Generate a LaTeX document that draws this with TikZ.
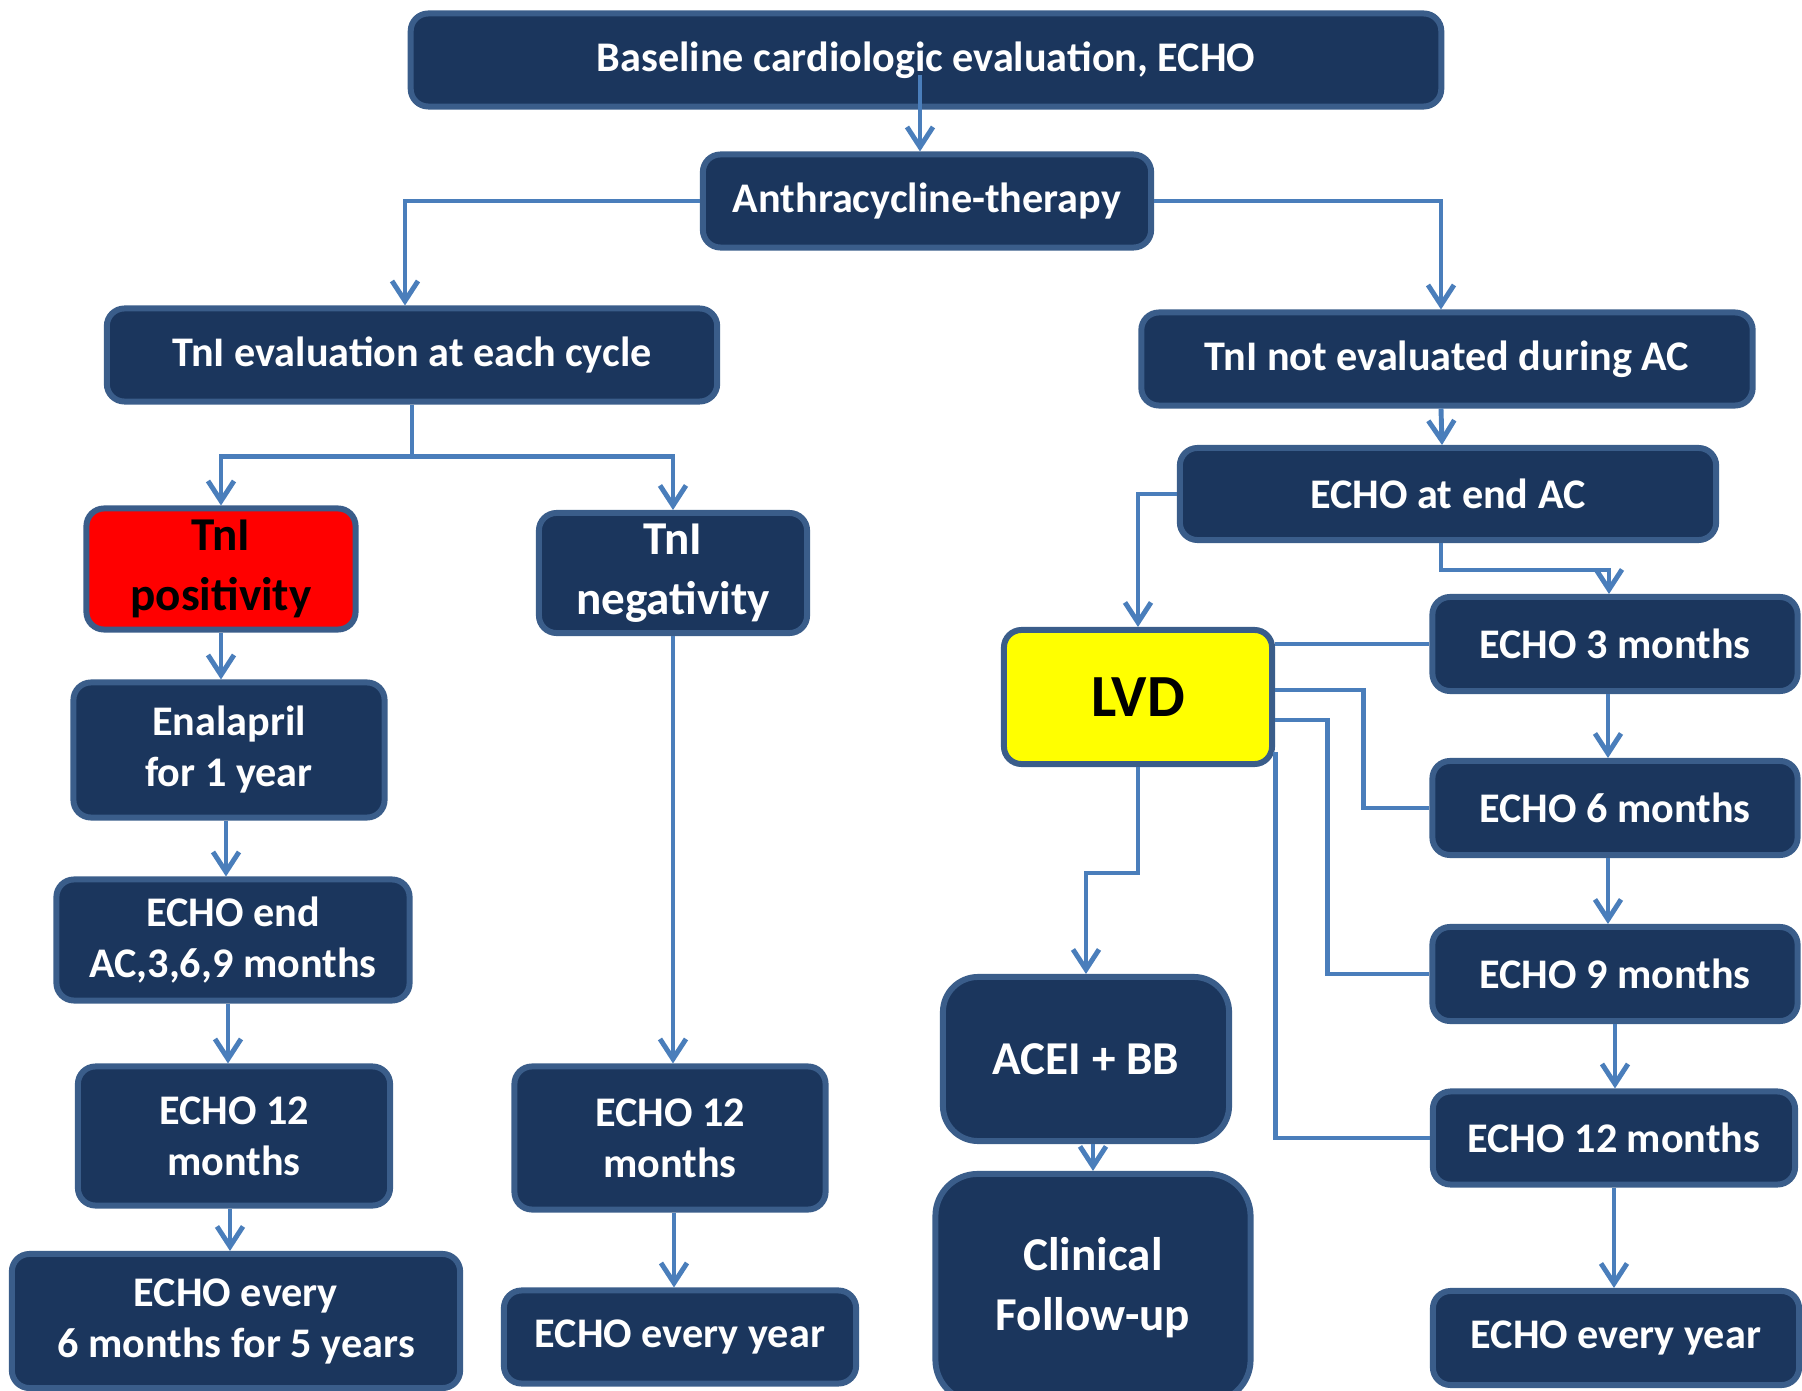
\documentclass[tikz,border=0pt]{standalone}
\usepackage{fontspec}
\setmainfont{Carlito}
\usepackage{tikz}
\usetikzlibrary{arrows.meta}
\definecolor{boxFill}{HTML}{1B365D}
\definecolor{boxEdge}{HTML}{3A5D8A}
\definecolor{lineBlue}{HTML}{4A7EBB}
\definecolor{alarmRed}{HTML}{FF0000}
\definecolor{alarmYellow}{HTML}{FFFF00}

\begin{document}
\begin{tikzpicture}[
  x=0.01cm, y=-0.01cm,
  box/.style={draw=boxEdge, fill=boxFill, line width=1.7pt, rounded corners=5pt,
              text=white, align=center, inner sep=2pt,
              font=\bfseries\fontsize{12}{14.5}\selectfont},
  bigbox/.style={box, font=\bfseries\fontsize{13.4}{17}\selectfont},
  arr/.style={-{Straight Barb[length=2mm,width=2.6mm]}, lineBlue, line width=1.4pt},
  link/.style={lineBlue, line width=1.4pt}
]
\useasboundingbox (0,0) rectangle (1802,1391);

% top of the chart
\node[box, minimum width=10.3cm, minimum height=0.93cm] (base) at (926,60) {Baseline cardiologic evaluation, ECHO};
\node[box, minimum width=4.48cm, minimum height=0.93cm] (anthra) at (927,201) {Anthracycline-therapy};
\node[box, minimum width=6.1cm, minimum height=0.93cm] (tnieval) at (412,355) {TnI evaluation at each cycle};
\node[box, minimum width=6.11cm, minimum height=0.93cm] (tninot) at (1447,359) {TnI not evaluated during AC};

% left branch
\node[bigbox, fill=alarmRed, text=black, minimum width=2.69cm, minimum height=1.21cm] (tnipos) at (221,569) {TnI\\positivity};
\node[box, minimum width=3.11cm, minimum height=1.35cm] (enal) at (229,750) {Enalapril\\for 1 year};
\node[box, minimum width=3.53cm, minimum height=1.21cm] (echoend) at (233,940) {ECHO end\\AC,3,6,9 months};
\node[box, minimum width=3.12cm, minimum height=1.39cm] (lecho12) at (234,1136) {ECHO 12\\months};
\node[box, minimum width=4.48cm, minimum height=1.34cm] (levery) at (236,1321) {ECHO every\\6 months for 5 years};

% middle branch
\node[bigbox, minimum width=2.68cm, minimum height=1.2cm] (tnineg) at (673,573) {TnI\\negativity};
\node[box, minimum width=3.11cm, minimum height=1.43cm] (mecho12) at (670,1138) {ECHO 12\\months};
\node[box, minimum width=3.52cm, minimum height=0.93cm] (mevery) at (680,1337) {ECHO every year};

% right branch
\node[box, minimum width=5.36cm, minimum height=0.92cm] (endac) at (1448,494) {ECHO at end AC};
\node[box, fill=alarmYellow, text=black, font=\bfseries\fontsize{17}{20}\selectfont,
      minimum width=2.68cm, minimum height=1.34cm] (lvd) at (1138,697) {LVD};
\node[bigbox, rounded corners=10pt, minimum width=2.86cm, minimum height=1.64cm] (acei) at (1086,1059) {ACEI + BB};
\node[bigbox, rounded corners=12pt, minimum width=3.15cm, minimum height=2.28cm] (clin) at (1093,1288) {Clinical\\Follow-up};
\node[box, minimum width=3.65cm, minimum height=0.94cm] (r3) at (1615,644) {ECHO 3 months};
\node[box, minimum width=3.65cm, minimum height=0.94cm] (r6) at (1615,808) {ECHO 6 months};
\node[box, minimum width=3.65cm, minimum height=0.94cm] (r9) at (1615,974) {ECHO 9 months};
\node[box, minimum width=3.62cm, minimum height=0.93cm] (r12) at (1614,1138) {ECHO 12 months};
\node[box, minimum width=3.66cm, minimum height=0.94cm] (revery) at (1616,1338) {ECHO every year};

% connectors
\draw[arr] ([xshift=-0.07cm]anthra.north |- 0,75) -- ([xshift=-0.07cm]anthra.north);
\draw[arr] (anthra.west) -| ([xshift=-0.07cm]tnieval.north);
\draw[arr] (anthra.east) -| ([xshift=-0.06cm]tninot.north);
\draw[arr] ([xshift=-0.06cm]tninot.south) -- ([xshift=-0.06cm]endac.north);
\draw[link] (tnieval.south) -- ++(0,52) coordinate (split);
\draw[arr] (split) -| (tnipos.north);
\draw[arr] (split) -| (tnineg.north);
\draw[arr] (tnipos.south) -- (tnipos.south |- enal.north);
\draw[arr] ([xshift=-0.03cm]enal.south) -- ([xshift=-0.03cm]enal.south |- echoend.north);
\draw[arr] ([xshift=-0.05cm]echoend.south) -- ([xshift=-0.05cm]echoend.south |- lecho12.north);
\draw[arr] ([xshift=-0.04cm]lecho12.south) -- ([xshift=-0.04cm]lecho12.south |- levery.north);
\draw[arr] (tnineg.south) -- (tnineg.south |- mecho12.north);
\draw[arr] ([xshift=0.04cm]mecho12.south) -- ([xshift=0.04cm]mecho12.south |- mevery.north);
\draw[arr] (endac.west) -| (lvd.north);
\draw[arr] ([xshift=-0.07cm]endac.south) -- ++(0,27) -| ([xshift=-0.06cm]r3.north);
\draw[arr] ([xshift=-0.07cm]r3.south) -- ([xshift=-0.07cm]r6.north);
\draw[arr] ([xshift=-0.07cm]r6.south) -- ([xshift=-0.07cm]r9.north);
\draw[arr] (r9.south) -- (r9.south |- r12.north);
\draw[arr] (r12.south) -- (r12.south |- revery.north);
\draw[arr] (lvd.south) -- ++(0,106) -| (acei.north);
\draw[arr] (clin.north |- acei.south) -- (clin.north);
\draw[link] (lvd.east |- r3.west) -- (r3.west);
\draw[link] (lvd.east) ++(0,-7) -- ++(88,0) |- (r6.west);
\draw[link] (lvd.east) ++(0,23) -- ++(52,0) |- (r9.west);
\draw[link] (lvd.east) ++(0,55) |- (r12.west);
\end{tikzpicture}
\end{document}
